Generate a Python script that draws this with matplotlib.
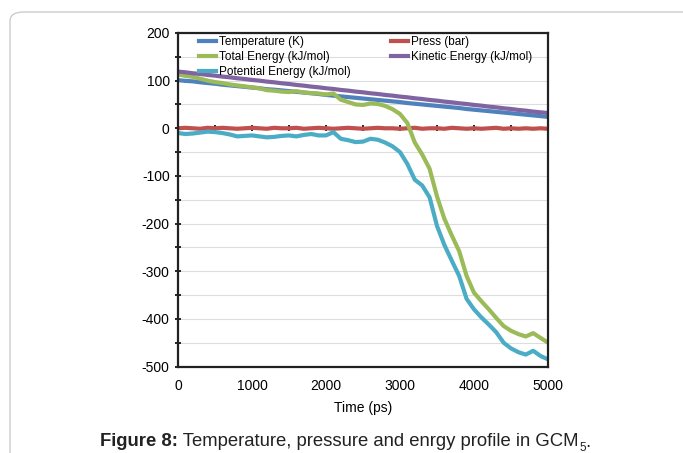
import matplotlib
matplotlib.use("Agg")
import matplotlib.pyplot as plt
from matplotlib.patches import FancyBboxPatch

plt.rcParams['font.family'] = ['Liberation Sans', 'DejaVu Sans']
plt.rcParams['axes.unicode_minus'] = False

# Time axis in ps (0..5000, every 100 ps)
time_ps = list(range(0, 5001, 100))

temperature = [101, 99.5, 98.5, 96.5, 95, 93.5, 91.5, 90, 88.5, 87, 85.5,
               84, 82, 81, 79.5, 78, 76.5, 75, 73.5, 72, 70,
               68.5, 67, 65.5, 64, 62.5, 61, 59.5, 58, 56.5, 55,
               53, 51.5, 50, 48.5, 47, 45.5, 44, 42.5, 40.5, 39,
               37.5, 36, 34.5, 33, 31.5, 30, 28.5, 27, 25.5, 24]

press = [0, 1, 0, -1, 1, 0, 1, 0, -1, 0, 1,
         0, -1, 1, 0, 0, 1, -1, 0, 1, 0,
         -1, 0, 1, 0, -1, 0, 1, 0, 0, -1,
         0, 1, -1, 0, 0, -1, 1, 0, -1, 0,
         -1, 0, 1, -1, 0, -1, 0, -1, 0, -1]

total_energy = [113, 110, 108, 104, 100, 97, 95, 92, 90, 88, 86,
                84, 80, 79, 77, 76, 78, 75, 74, 73, 71,
                73, 60, 55, 50, 49, 52, 51, 47, 40, 30,
                11, -30, -55, -85, -143, -190, -225, -258, -310, -345,
                -363, -380, -398, -415, -425, -432, -437, -430, -440, -450]

kinetic_energy = [119, 117.5, 115.5, 114, 112, 110.5, 108.5, 107, 105, 103.5, 101.5,
                  100, 98, 96.5, 94.5, 93, 91, 89.5, 87.5, 86, 84,
                  82.5, 80.5, 79, 77, 75.5, 73.5, 72, 70, 68.5, 66.5,
                  65, 63, 61.5, 59.5, 58, 56, 54.5, 52.5, 51, 49,
                  47.5, 45.5, 44, 42, 40.5, 38.5, 37, 35, 33.5, 32]

potential_energy = [-10, -12, -11, -9, -7, -8, -10, -13, -17, -16, -15,
                    -17, -19, -18, -16, -15, -17, -14, -12, -15, -15,
                    -8, -22, -25, -29, -28, -22, -24, -30, -38, -50,
                    -75, -108, -120, -145, -205, -245, -278, -310, -358, -380,
                    -397, -412, -428, -450, -462, -470, -475, -467, -478, -485]

series = [
    ("Temperature (K)", temperature, "#4F81BD"),
    ("Press (bar)", press, "#C0504D"),
    ("Total Energy (kJ/mol)", total_energy, "#9BBB59"),
    ("Kinetic Energy (kJ/mol)", kinetic_energy, "#8064A2"),
    ("Potential Energy (kJ/mol)", potential_energy, "#4BACC6"),
]


def draw():
    fig = plt.figure(figsize=(6.83, 4.53), dpi=100)

    # rounded frame round the figure
    frame = FancyBboxPatch((10 / 683, -0.2), 1.2, 1.2 - 12 / 453,
                           boxstyle="round,pad=0,rounding_size=0.02",
                           transform=fig.transFigure, fc="none",
                           ec="#cccccc", lw=1.0, zorder=-1)
    fig.patches.append(frame)

    ax = fig.add_axes([178 / 683, 1 - 366.5 / 453, 370 / 683, 333.5 / 453])

    lines = {}
    for name, vals, col in series:
        (ln,) = ax.plot(time_ps, vals, color=col, lw=3, label=name)
        lines[name] = ln

    ax.set_xlim(0, 5000)
    ax.set_ylim(-500, 200)
    ax.set_yticks(range(-500, 201, 100))
    ax.set_yticks(range(-450, 200, 100), minor=True)
    ax.set_xticks(range(0, 5001, 1000))
    ax.grid(axis="y", which="both", color="#dddddd", lw=0.8)
    ax.set_axisbelow(True)
    ax.tick_params(axis="y", which="both", direction="inout", length=4,
                   width=1.2, labelsize=10, pad=4)
    ax.tick_params(axis="x", length=0, labelsize=10, pad=9)
    for s in ax.spines.values():
        s.set_linewidth(1.6)
        s.set_color("#222222")
    ax.set_xlabel("Time (ps)", fontsize=10, labelpad=6)

    # x tick marks sit on the zero line (Excel style)
    sec = ax.secondary_xaxis(5 / 7)
    sec.set_xticks(range(0, 5001, 500))
    sec.tick_params(direction="inout", length=4, width=1.2, labelbottom=False,
                    labeltop=False)
    sec.spines["top"].set_visible(False)
    sec.spines["bottom"].set_visible(False)

    order = ["Temperature (K)", "Total Energy (kJ/mol)", "Potential Energy (kJ/mol)",
             "Press (bar)", "Kinetic Energy (kJ/mol)"]
    ax.legend([lines[n] for n in order], order, ncol=2, frameon=False,
              loc="upper left", bbox_to_anchor=(0.045, 1.005), fontsize=8.5,
              handlelength=1.4, handletextpad=0.3, columnspacing=3.4,
              labelspacing=0.25, borderaxespad=0)

    # caption
    t1 = fig.text(100 / 683, 1 - 446 / 453, "Figure 8:", fontsize=13.3,
                  fontweight="bold", color="#222222")
    t2 = ax.annotate(" Temperature, pressure and enrgy profile in GCM",
                     xy=(1, 0), xycoords=t1, fontsize=13.3, color="#222222",
                     va="bottom", ha="left", annotation_clip=False)
    t3 = ax.annotate("5", xy=(1, 0), xycoords=t2, xytext=(0.5, -3),
                     textcoords="offset points", fontsize=8.5, color="#222222",
                     va="bottom", ha="left", annotation_clip=False)
    ax.annotate(".", xy=(1, 3 / 11.0), xycoords=t3, fontsize=13.3,
                color="#222222", va="bottom", ha="left", annotation_clip=False)

    fig.savefig("out.png", dpi=100)


if __name__ == '__main__':
    draw()
